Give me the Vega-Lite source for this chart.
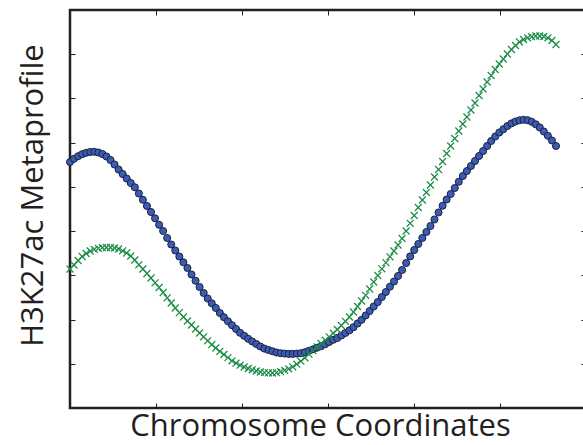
{
  "$schema": "https://vega.github.io/schema/vega-lite/v6.json",
  "width": 516,
  "height": 398,
  "autosize": {"type": "none"},
  "padding": {"left": 70, "top": 10, "right": 0, "bottom": 37},
  "background": "white",
  "config": {
    "view": {"stroke": "#231f20", "strokeWidth": 2.5},
    "axis": {"domain": false, "grid": false, "labels": false, "tickColor": "#231f20", "tickWidth": 1, "tickSize": -5,
      "titleFont": "Open Sans", "titleFontSize": 31, "titleFontWeight": "normal", "titleColor": "#231f20"}
  },
  "data": {"values": [
    {"x":0,"blue":246,"green":139},{"x":1,"blue":249.2,"green":143},{"x":2,"blue":251.8,"green":147.5},{"x":3,"blue":253.8,"green":151.5},{"x":4,"blue":255.2,"green":154.5},
    {"x":5,"blue":256,"green":157},{"x":6,"blue":256.2,"green":158.7},{"x":7,"blue":255.5,"green":159.7},{"x":8,"blue":254,"green":160.3},{"x":9,"blue":251.5,"green":160.5},
    {"x":10,"blue":248,"green":160.5},{"x":11,"blue":243.5,"green":160},{"x":12,"blue":238.5,"green":159},{"x":13,"blue":234,"green":157.2},{"x":14,"blue":229.5,"green":155},
    {"x":15,"blue":225,"green":152},{"x":16,"blue":220.7,"green":148},{"x":17,"blue":214.5,"green":143.2},{"x":18,"blue":208.2,"green":139},{"x":19,"blue":202,"green":134.5},
    {"x":20,"blue":196,"green":130},{"x":21,"blue":189.7,"green":125.2},{"x":22,"blue":183.2,"green":120.5},{"x":23,"blue":177,"green":115.5},{"x":24,"blue":170,"green":110.2},
    {"x":25,"blue":163.5,"green":105},{"x":26,"blue":157.5,"green":100},{"x":27,"blue":151.5,"green":95.4},{"x":28,"blue":145.7,"green":91},{"x":29,"blue":140,"green":87},
    {"x":30,"blue":133.5,"green":83},{"x":31,"blue":127.2,"green":79},{"x":32,"blue":121,"green":75},{"x":33,"blue":115,"green":71.2},{"x":34,"blue":109.5,"green":67.2},
    {"x":35,"blue":104.7,"green":63.3},{"x":36,"blue":100,"green":60},{"x":37,"blue":95,"green":56.6},{"x":38,"blue":90.8,"green":53.5},{"x":39,"blue":86.7,"green":50.4},
    {"x":40,"blue":82.8,"green":47.2},{"x":41,"blue":79,"green":44.8},{"x":42,"blue":75.2,"green":42.8},{"x":43,"blue":72.2,"green":41},{"x":44,"blue":69.2,"green":39.5},
    {"x":45,"blue":66.5,"green":38.2},{"x":46,"blue":64,"green":37},{"x":47,"blue":61.5,"green":36},{"x":48,"blue":59.4,"green":35.4},{"x":49,"blue":58,"green":35.1},
    {"x":50,"blue":56.7,"green":35},{"x":51,"blue":55.5,"green":35.4},{"x":52,"blue":54.8,"green":36.3},{"x":53,"blue":54.4,"green":37.6},{"x":54,"blue":54.1,"green":39.2},
    {"x":55,"blue":54.1,"green":41.2},{"x":56,"blue":54.4,"green":43.8},{"x":57,"blue":54.8,"green":46.8},{"x":58,"blue":55.8,"green":50.2},{"x":59,"blue":57.2,"green":53.8},
    {"x":60,"blue":58.6,"green":57.4},{"x":61,"blue":60.3,"green":61.2},{"x":62,"blue":61.8,"green":64.5},{"x":63,"blue":63.8,"green":67.8},{"x":64,"blue":66,"green":71.1},
    {"x":65,"blue":68.2,"green":74.8},{"x":66,"blue":70,"green":78.5},{"x":67,"blue":72.5,"green":82.5},{"x":68,"blue":75,"green":86.7},{"x":69,"blue":77.7,"green":91},
    {"x":70,"blue":80.8,"green":96},{"x":71,"blue":84.5,"green":101.5},{"x":72,"blue":88.2,"green":107},{"x":73,"blue":92.5,"green":112.7},{"x":74,"blue":97,"green":119},
    {"x":75,"blue":101.5,"green":126},{"x":76,"blue":106,"green":132.5},{"x":77,"blue":111,"green":139.2},{"x":78,"blue":116,"green":145.4},{"x":79,"blue":121.3,"green":151.2},
    {"x":80,"blue":126.5,"green":157},{"x":81,"blue":132,"green":163},{"x":82,"blue":138,"green":169.5},{"x":83,"blue":145,"green":177},{"x":84,"blue":151.6,"green":184.7},
    {"x":85,"blue":158,"green":192.5},{"x":86,"blue":164,"green":200.5},{"x":87,"blue":170,"green":208},{"x":88,"blue":176,"green":215.5},{"x":89,"blue":182,"green":223},
    {"x":90,"blue":188.5,"green":231},{"x":91,"blue":195.5,"green":238.5},{"x":92,"blue":202.2,"green":246.5},{"x":93,"blue":208.5,"green":254.5},{"x":94,"blue":214,"green":262},
    {"x":95,"blue":220,"green":269.5},{"x":96,"blue":226.2,"green":277},{"x":97,"blue":232,"green":284},{"x":98,"blue":237,"green":291},{"x":99,"blue":242,"green":298},
    {"x":100,"blue":247,"green":305},{"x":101,"blue":252,"green":312.5},{"x":102,"blue":257,"green":319},{"x":103,"blue":262,"green":326},{"x":104,"blue":267,"green":332.5},
    {"x":105,"blue":271.5,"green":338.5},{"x":106,"blue":275.5,"green":344},{"x":107,"blue":278.8,"green":349},{"x":108,"blue":282,"green":354},{"x":109,"blue":284.6,"green":358.5},
    {"x":110,"blue":286.5,"green":362.5},{"x":111,"blue":287.7,"green":366},{"x":112,"blue":288.2,"green":368.5},{"x":113,"blue":287.8,"green":370.2},{"x":114,"blue":286.2,"green":371.3},
    {"x":115,"blue":283.7,"green":372},{"x":116,"blue":280.5,"green":372},{"x":117,"blue":276.5,"green":371.5},{"x":118,"blue":272.2,"green":370.2},{"x":119,"blue":267.5,"green":367.5},
    {"x":120,"blue":262,"green":363.5}
  ]},
  "layer": [
    {
      "mark": {"type": "point", "shape": "circle", "filled": true, "fill": "#3a5cb3", "stroke": "#1d1f3d", "strokeWidth": 1, "size": 50, "opacity": 1},
      "encoding": {
        "x": {"field": "x", "type": "quantitative", "scale": {"domain": [0, 127.41], "nice": false, "zero": false},
          "axis": {"orient": "bottom", "values": [21.235, 42.47, 63.705, 84.94, 106.175], "title": "Chromosome Coordinates",
            "titleX": 250, "titleY": 27, "titleAlign": "center", "titleBaseline": "alphabetic"}},
        "y": {"field": "blue", "type": "quantitative", "scale": {"domain": [0, 398], "nice": false, "zero": false},
          "axis": {"orient": "left", "values": [44.22, 88.44, 132.67, 176.89, 221.11, 265.33, 309.56, 353.78], "title": "H3K27ac Metaprofile",
            "titleX": -37, "titleY": 185, "titleAngle": -90, "titleAlign": "center", "titleBaseline": "middle"}}
      }
    },
    {
      "mark": {"type": "point", "shape": "M-1,-1L1,1M-1,1L1,-1", "filled": false, "stroke": "#1a8b45", "strokeWidth": 1.2, "size": 48, "opacity": 1},
      "encoding": {
        "x": {"field": "x", "type": "quantitative",
          "axis": {"orient": "top", "values": [21.235, 42.47, 63.705, 84.94, 106.175], "title": null}},
        "y": {"field": "green", "type": "quantitative",
          "axis": {"orient": "right", "values": [44.22, 88.44, 132.67, 176.89, 221.11, 265.33, 309.56, 353.78], "title": null}}
      }
    }
  ],
  "resolve": {"axis": {"x": "independent", "y": "independent"}}
}
